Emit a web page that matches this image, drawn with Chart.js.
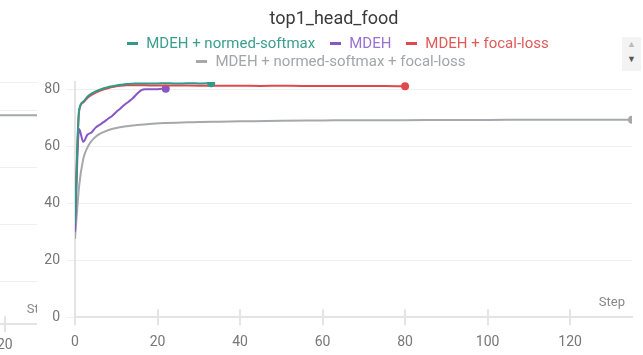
<!DOCTYPE html>
<html>
<head>
<meta charset="utf-8">
<script src="https://cdn.jsdelivr.net/npm/chart.js@4.4.0/dist/chart.umd.min.js"></script>
<style>
  html, body { margin: 0; padding: 0; background: #fff; }
  body { width: 643px; height: 355px; position: relative; overflow: hidden; font-family: Roboto, sans-serif; }
  #sidePanel { position: absolute; left: 0; top: 0; width: 37px; height: 355px; overflow: hidden; }
  #sidePanel canvas { position: absolute; left: -200px; top: 0; }
  #mainCanvas { position: absolute; left: 30px; top: 0; }
  #title { position: absolute; left: 0; width: 668px; top: 7px; text-align: center; font-size: 18px; color: #3a3a3a; }
  #legend { position: absolute; left: 108px; width: 460px; top: 34px; display: flex; flex-wrap: wrap; justify-content: center; column-gap: 15px; font-size: 15px; line-height: 18px; }
  #legend .item { display: flex; align-items: center; white-space: nowrap; }
  #legend .item:last-child { margin-right: 14px; }
  #legend .mark { width: 11px; height: 3px; margin-right: 8px; }
  #scroller { position: absolute; left: 622px; top: 37px; width: 19px; height: 34px; background: #f3f3f3; font-size: 9px; text-align: center; line-height: 15px; }
</style>
</head>
<body>
<div id="sidePanel"><canvas id="sideCanvas" width="270" height="363"></canvas></div>
<canvas id="mainCanvas" width="610" height="366"></canvas>
<div id="title">top1_head_food</div>
<div id="legend"></div>
<div id="scroller"><div style="color:#bbb">&#9650;</div><div style="color:#555">&#9660;</div></div>
<script>
Chart.defaults.font.family = 'Roboto, sans-serif';

// run names and colours (line, legend text)
const runNames = ['MDEH + normed-softmax', 'MDEH', 'MDEH + focal-loss', 'MDEH + normed-softmax + focal-loss'];
const lineColors = ['#2f9a8a', '#8757c6', '#e0484d', '#a5a9ab'];
const textColors = ['#3a9e8f', '#9b72d2', '#e05a5a', '#a2a6a8'];

// MDEH + normed-softmax
const softmaxSteps = [0, 1, 2, 3, 4, 5, 6, 7, 8, 9, 10, 11, 12, 13, 14, 15, 16, 18, 20, 22, 24, 26, 28, 30, 33];
const softmaxTop1 = [33, 72.6, 75.6, 77.3, 78.4, 79.2, 79.8, 80.3, 80.7, 81.0, 81.3, 81.5, 81.7, 81.8, 81.9, 82.0, 82.0, 82.0, 82.0, 82.1, 82.0, 82.0, 82.1, 82.0, 82.1];

// MDEH
const baseSteps = [0, 1, 2, 3, 4, 5, 6, 7, 8, 9, 10, 11, 12, 13, 14, 15, 16, 17, 18, 19, 20, 21, 22];
const baseTop1 = [30, 66, 61.5, 64, 64.8, 66.5, 67.5, 68.5, 69.6, 70.6, 72, 73.2, 74.5, 75.6, 76.8, 78.3, 79.6, 80, 80, 80, 80, 80.1, 80.1];

// MDEH + focal-loss
const focalSteps = [0, 1, 2, 3, 4, 5, 6, 7, 8, 9, 10, 11, 12, 13, 14, 15, 16, 18, 20, 25, 30, 35, 40, 45, 50, 55, 60, 65, 70, 75, 80];
const focalTop1 = [35, 72.4, 75.3, 76.9, 78.0, 78.8, 79.4, 79.9, 80.3, 80.7, 81.0, 81.2, 81.3, 81.4, 81.4, 81.4, 81.4, 81.3, 81.3, 81.3, 81.2, 81.2, 81.2, 81.1, 81.2, 81.1, 81.1, 81.1, 81.1, 81.1, 81.0];

// MDEH + normed-softmax + focal-loss
const comboSteps = [0, 1, 2, 3, 4, 5, 6, 7, 8, 10, 12, 15, 18, 22, 26, 30, 35, 40, 50, 60, 70, 80, 90, 100, 110, 120, 135];
const comboTop1 = [27.5, 46, 55.5, 59.5, 61.8, 63.3, 64.3, 65.0, 65.6, 66.4, 66.9, 67.4, 67.8, 68.1, 68.3, 68.5, 68.6, 68.7, 68.9, 69.0, 69.1, 69.1, 69.2, 69.2, 69.3, 69.3, 69.3];

// neighbouring panel, only its right edge shows
const sideSteps = [14, 20, 28];
const sideValues = [58.3, 58.3, 58.4];

const xTicks = [0, 20, 40, 60, 80, 100, 120];

const toPoints = (steps, vals) => steps.map((s, i) => ({ x: s, y: vals[i] }));
const endDot = c => c.dataIndex === c.dataset.data.length - 1 ? 4 : 0;

function series(idx, steps, vals) {
    return {
        label: runNames[idx],
        data: toPoints(steps, vals),
        borderColor: lineColors[idx],
        backgroundColor: lineColors[idx],
        borderWidth: 2,
        pointRadius: endDot,
        pointBorderWidth: 0,
        cubicInterpolationMode: 'monotone'
    };
}

// legend
const legendEl = document.getElementById('legend');
runNames.forEach((name, i) => {
    const item = document.createElement('div');
    item.className = 'item';
    item.innerHTML = `<span class="mark" style="background:${lineColors[i]}"></span><span style="color:${textColors[i]}">${name}</span>`;
    legendEl.appendChild(item);
});

// tick crosses on the x axis plus the "Step" caption
const axisDecor = {
    id: 'axisDecor',
    beforeDatasetsDraw(chart) {
        const { ctx, chartArea, scales: { x } } = chart;
        ctx.save();
        ctx.strokeStyle = '#e4e4e4';
        ctx.lineWidth = 2;
        x.ticks.forEach(t => {
            const px = Math.round(x.getPixelForValue(t.value));
            ctx.beginPath();
            ctx.moveTo(px, chartArea.bottom - 8);
            ctx.lineTo(px, chartArea.bottom + 8);
            ctx.stroke();
        });
        ctx.restore();
    },
    afterDraw(chart) {
        const { ctx, chartArea } = chart;
        ctx.save();
        ctx.fillStyle = '#888';
        ctx.font = '13px Roboto, sans-serif';
        ctx.textAlign = 'right';
        ctx.textBaseline = 'middle';
        ctx.fillText('Step', chartArea.right - 7, chartArea.bottom - 14);
        ctx.restore();
    }
};

const tickFont = { size: 14 };

new Chart(document.getElementById('mainCanvas'), {
    type: 'line',
    data: {
        datasets: [
            series(0, softmaxSteps, softmaxTop1),
            series(2, focalSteps, focalTop1),
            series(1, baseSteps, baseTop1),
            series(3, comboSteps, comboTop1)
        ]
    },
    options: {
        responsive: false,
        animation: false,
        layout: { padding: { top: 82, right: 8, bottom: 6, left: 0 } },
        plugins: { legend: { display: false }, tooltip: { enabled: false } },
        scales: {
            x: {
                type: 'linear', min: 0, max: 135,
                afterBuildTicks: s => { s.ticks = xTicks.map(v => ({ value: v })); },
                ticks: { color: '#777', font: tickFont, padding: 9, maxRotation: 0 },
                grid: { display: false, tickLength: 8 },
                border: { color: '#e4e4e4', width: 2 }
            },
            y: {
                min: 0, max: 82.5,
                ticks: { stepSize: 20, includeBounds: false, color: '#777', font: tickFont, padding: 7 },
                grid: { color: '#efefef', tickLength: 8 },
                border: { color: '#e4e4e4', width: 2 },
                afterFit: s => { s.width = 45; }
            }
        }
    },
    plugins: [axisDecor]
});

new Chart(document.getElementById('sideCanvas'), {
    type: 'line',
    data: { datasets: [series(3, sideSteps, sideValues)] },
    options: {
        responsive: false,
        animation: false,
        layout: { padding: { top: 82, right: 10, bottom: 4, left: 0 } },
        plugins: { legend: { display: false }, tooltip: { enabled: false } },
        elements: { point: { radius: 0 } },
        scales: {
            x: {
                type: 'linear', min: 0, max: 28,
                afterBuildTicks: s => { s.ticks = [{ value: 20 }]; },
                ticks: { color: '#777', font: tickFont, padding: 5 },
                grid: { display: false, tickLength: 8 },
                border: { color: '#e4e4e4', width: 2 }
            },
            y: {
                min: -15, max: 70,
                ticks: { stepSize: 20, display: false },
                grid: { color: '#efefef', drawTicks: false },
                border: { display: false },
                afterFit: s => { s.width = 67; }
            }
        }
    },
    plugins: [axisDecor]
});
</script>
</body>
</html>
